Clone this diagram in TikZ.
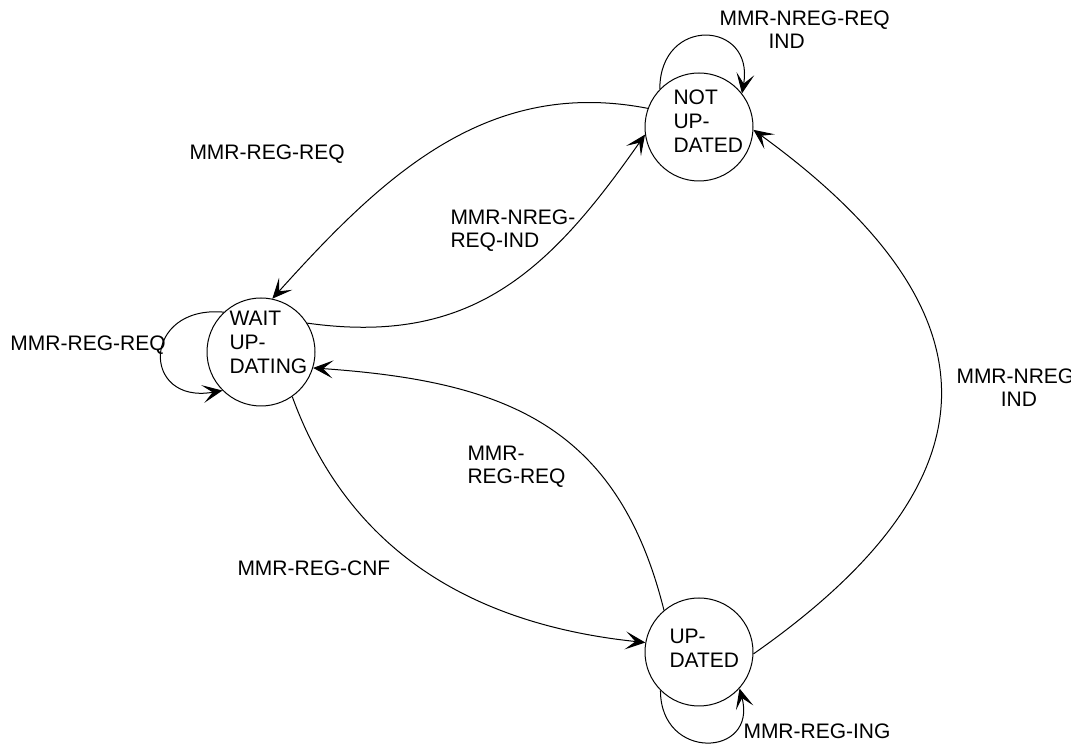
\documentclass[tikz,border=0pt]{standalone}
\usepackage{fontspec}
\setmainfont{Liberation Sans}
\usetikzlibrary{arrows.meta}

\begin{document}
\begin{tikzpicture}[x=0.5pt,y=-0.5pt,line width=0.5pt,
font=\fontsize{10.5}{11.5}\selectfont,
>={Stealth[length=10pt,width=9pt,inset=5pt]},
state/.style={draw, circle, minimum size=54pt, inner sep=0pt},
statetext/.style={anchor=west, align=left, inner sep=0pt, font=\fontsize{10.5}{12}\selectfont},
msg/.style={anchor=west, align=left, inner sep=0pt}]
\useasboundingbox (0,0) rectangle (1071,747);
\node[state] (notupd) at (699,127) {};
\node[state] (waitupd) at (261,352) {};
\node[state] (upd) at (699,652) {};
\node[statetext] (notupd-t) at (673,121) {NOT\\UP-\\DATED};
\node[statetext] (waitupd-t) at (229,342) {WAIT\\UP-\\DATING};
\node[statetext] (upd-t) at (669,648) {UP-\\DATED};
\draw[->] (notupd.136) to[out=90,in=80,looseness=2.3] (notupd.38);
\draw[->] (waitupd.133) to[out=175,in=190,looseness=2.7] (waitupd.225);
\draw[->] (upd.225) to[out=270,in=285,looseness=2.3] (upd.318);
\draw[->] (notupd.160) to[out=169,in=48] (waitupd.78);
\draw[->] (waitupd.32) to[out=-8,in=235,looseness=1.1] (notupd.188);
\draw[->] (upd.130) to[out=104,in=-4,looseness=1.15] (waitupd.343);
\draw[->] (waitupd.305) to[out=-70,in=174] (upd.170);
\draw[->] (upd.-2) to[out=35,in=-36,looseness=1.5] (notupd.-3);
\node[msg] (nreg-self) at (719,30) {MMR-NREG-REQ\\\hspace*{24.5pt}IND};
\node[msg] (reg-req-a) at (189,154) {MMR-REG-REQ};
\node[msg] (nreg-ind-a) at (450,231) {MMR-NREG-\\REQ-IND};
\node[msg] (reg-self) at (10,345) {MMR-REG-REQ};
\node[msg] (reg-req-b) at (467,467) {MMR-\\REG-REQ};
\node[msg] (reg-cnf) at (237,568) {MMR-REG-CNF};
\node[msg, align=center] (nreg-ind-b) at (956,388) {MMR-NREG-\\IND};
\node[msg] (reg-ing) at (743,731) {MMR-REG-ING};
\end{tikzpicture}
\end{document}
